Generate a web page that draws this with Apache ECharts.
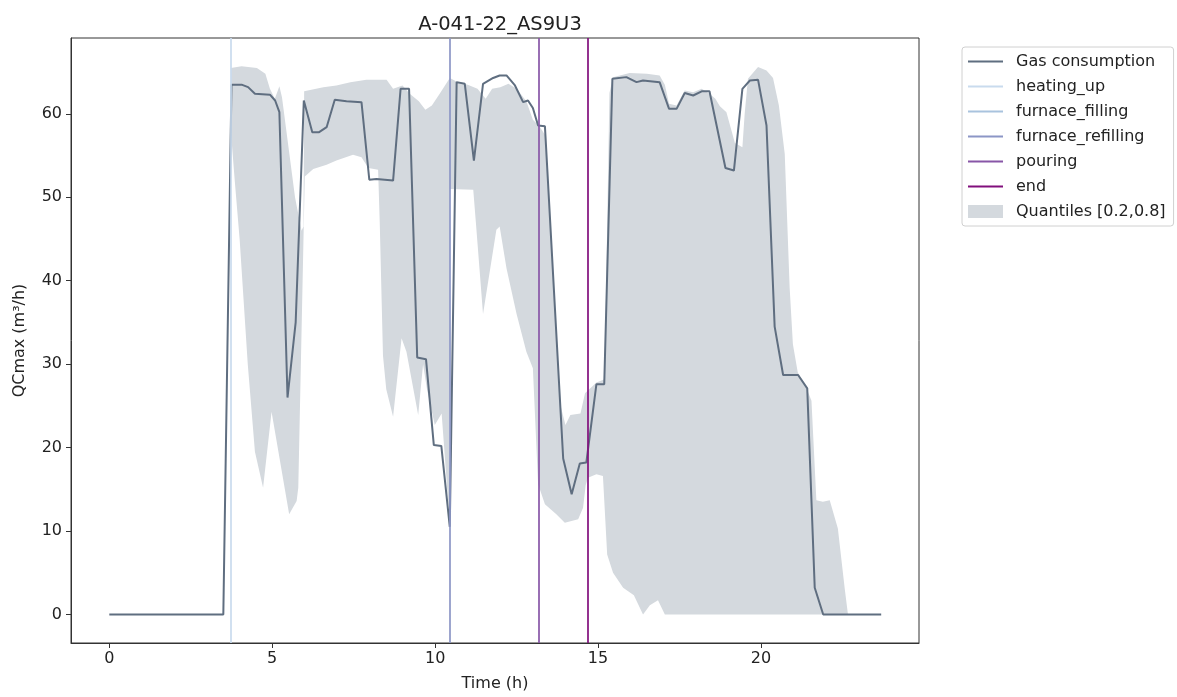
<!DOCTYPE html>
<html>
<head>
<meta charset="utf-8">
<script src="https://cdn.jsdelivr.net/npm/echarts@6/dist/echarts.min.js"></script>
<style>html,body{margin:0;padding:0;background:#fff}#c{width:1177px;height:697px}</style>
</head>
<body>
<div id="c"></div>
<script>
// ---- data ----
const chartTitle = 'A-041-22_AS9U3';
const xTicks = [0, 5, 10, 15, 20];
const yTicks = [0, 10, 20, 30, 40, 50, 60];

const gasConsumption = [
  [0,0],[3.5,0],[3.75,63.5],[4.06,63.5],[4.26,63.2],[4.47,62.4],[4.93,62.3],[5.09,61.6],[5.22,60.2],
  [5.47,26.0],[5.72,35.0],[5.97,61.6],[6.23,57.8],[6.44,57.8],[6.67,58.4],[6.92,61.7],[7.28,61.5],
  [7.74,61.4],[7.98,52.1],[8.20,52.2],[8.71,52.0],[8.94,63.0],[9.20,63.0],[9.45,30.8],[9.72,30.6],
  [9.96,20.3],[10.19,20.2],[10.45,10.5],[10.66,63.8],[10.91,63.6],[11.19,54.4],[11.47,63.6],
  [11.78,64.3],[11.98,64.6],[12.19,64.6],[12.45,63.4],[12.70,61.4],[12.85,61.6],[13.0,60.7],
  [13.16,58.6],[13.37,58.5],[13.93,18.7],[14.19,14.4],[14.44,18.1],[14.64,18.2],[14.95,27.6],
  [15.19,27.6],[15.44,64.2],[15.87,64.4],[16.18,63.8],[16.38,64.0],[16.89,63.8],[17.18,60.6],
  [17.41,60.6],[17.66,62.5],[17.92,62.2],[18.18,62.7],[18.42,62.7],[18.91,53.5],[19.17,53.2],
  [19.43,63.0],[19.66,64.0],[19.91,64.1],[20.17,58.6],[20.42,34.5],[20.68,28.7],[21.14,28.7],
  [21.42,27.1],[21.65,3.2],[21.91,0],[23.69,0]
];

const quantileUpper = [
  [3.73,65.5],[4.06,65.7],[4.53,65.5],[4.79,64.8],[4.93,63.0],[5.08,61.8],[5.22,63.3],[5.3,62],
  [5.5,56],[5.7,50],[5.9,46],[5.96,46.5],[5.98,62.7],[6.57,63.2],[6.97,63.4],[7.4,63.8],[7.89,64.1],
  [8.51,64.1],[8.71,63.0],[9.0,63.4],[9.22,62.4],[9.5,61.5],[9.7,60.5],[9.9,61.0],[10.14,62.4],
  [10.45,64.3],[10.7,63.8],[11.0,63.5],[11.3,63.0],[11.55,61.8],[11.75,63.0],[12.0,63.2],[12.25,63.6],
  [12.5,63.0],[12.8,61.5],[13.0,59.3],[13.2,58.5],[13.37,57.5],[13.6,42],[13.85,25],[14.0,22.7],
  [14.15,23.9],[14.46,24.1],[14.6,26.5],[14.95,27.8],[15.2,28.2],[15.35,62.5],[15.46,64.4],
  [15.97,64.9],[16.5,64.8],[16.89,64.6],[17.05,63.5],[17.18,61.2],[17.41,61.0],[17.66,62.8],
  [17.92,62.6],[18.18,63.0],[18.42,62.4],[18.6,61.8],[18.74,60.9],[18.94,60.2],[19.2,56.5],
  [19.43,56.0],[19.5,60],[19.6,64.2],[19.91,65.6],[20.17,65.2],[20.37,64.3],[20.55,61],[20.73,55.2],
  [20.88,39.2],[20.98,32.4],[21.13,29.0],[21.39,27.2],[21.55,25.6],[21.7,13.7],[21.9,13.5],
  [22.11,13.7],[22.36,10.3],[22.57,3.1],[22.67,0]
];

const quantileLower = [
  [3.73,58.0],[3.85,52],[4.0,45],[4.25,30],[4.47,19.5],[4.72,15.2],[4.98,24.3],[5.52,12.0],[5.75,13.6],
  [5.8,15.2],[6.0,52.5],[6.26,53.4],[6.67,53.9],[6.97,54.4],[7.48,55.1],[7.74,54.8],[7.95,53.5],
  [8.25,53.3],[8.3,47],[8.4,31],[8.5,27],[8.71,23.7],[8.97,33.1],[9.12,31.5],[9.48,23.9],[9.63,30.0],
  [9.75,27],[9.99,22.7],[10.2,24.1],[10.4,13.5],[10.44,12.5],[10.45,51.0],[11.17,50.9],[11.25,47],
  [11.47,36.0],[11.88,46.1],[11.98,46.5],[12.19,41.5],[12.5,36.0],[12.8,31.5],[13.0,29.5],
  [13.16,15.6],[13.37,13.2],[13.72,12.0],[13.98,11.0],[14.39,11.4],[14.54,12.8],[14.62,15.5],
  [14.69,16.4],[14.95,16.8],[15.15,16.6],[15.28,7.2],[15.46,5.0],[15.77,3.2],[16.1,2.3],[16.38,0],
  [16.59,1.1],[16.84,1.7],[17.05,0],[22.67,0]
];

const eventNames = ['heating_up', 'furnace_filling', 'furnace_refilling', 'pouring', 'end'];
const eventTimes = [3.73, null, 10.45, 13.19, 14.68];

// ---- styles ----
const eventColors = ['#c9dbee', '#a9c3de', '#8c96c6', '#8856a7', '#810f7c'];
const gasColor = '#5f6e80';
const bandColor = '#d4d9de';
const font = 'DejaVu Sans';

const chart = echarts.init(document.getElementById('c'), null, {renderer: 'canvas'});

const series = [];
series.push({
  type: 'custom',
  name: 'Quantiles [0.2,0.8]',
  coordinateSystem: 'cartesian2d',
  data: quantileUpper,
  silent: true,
  z: 1,
  itemStyle: {color: bandColor},
  renderItem: function (params, api) {
    if (params.dataIndex !== 0) return null;
    const pts = quantileUpper.map(p => api.coord(p))
      .concat(quantileLower.slice().reverse().map(p => api.coord(p)));
    return {type: 'polygon', shape: {points: pts}, style: {fill: bandColor}};
  }
});
series.push({
  type: 'line',
  name: 'Gas consumption',
  data: gasConsumption,
  symbol: 'none',
  showSymbol: false,
  z: 3,
  lineStyle: {color: gasColor, width: 2},
  itemStyle: {color: gasColor}
});
eventNames.forEach((n, i) => {
  series.push({
    type: 'line',
    name: n,
    data: [],
    symbol: 'none',
    z: 4,
    lineStyle: {color: eventColors[i], width: 1.7},
    itemStyle: {color: eventColors[i]},
    markLine: {
      silent: true,
      symbol: 'none',
      label: {show: false},
      lineStyle: {color: eventColors[i], width: 1.7, type: 'solid'},
      data: eventTimes[i] === null ? [] : [{xAxis: eventTimes[i]}]
    }
  });
});

const legendItems = ['Gas consumption'].concat(eventNames).map(n => ({name: n}));
legendItems.push({name: 'Quantiles [0.2,0.8]', icon: 'rect', itemStyle: {opacity: 1, color: bandColor}});

chart.setOption({
  animation: false,
  backgroundColor: '#fff',
  title: {
    text: chartTitle,
    left: 495, top: 10, textAlign: 'center',
    textStyle: {fontFamily: font, fontSize: 19.5, fontWeight: 'normal', color: '#222'}
  },
  grid: {
    left: 71, right: 258, top: 38, bottom: 51,
    show: true, borderColor: '#333', borderWidth: 1, backgroundColor: '#fff'
  },
  legend: {
    orient: 'vertical', left: 962, top: 47,
    data: legendItems,
    itemWidth: 35, itemHeight: 13, itemGap: 8,
    padding: [6, 8, 6, 5],
    borderColor: '#d0d0d0', borderWidth: 1, borderRadius: 3,
    itemStyle: {opacity: 0},
    lineStyle: {width: 2},
    textStyle: {fontFamily: font, fontSize: 16, color: '#222', lineHeight: 17, padding: [0, 0, 0, 8]},
    selectedMode: false
  },
  xAxis: {
    type: 'value', min: -1.175, max: 24.85,
    name: 'Time (h)', nameLocation: 'middle', nameGap: 33,
    nameTextStyle: {fontFamily: font, fontSize: 16, color: '#222'},
    splitLine: {show: false},
    axisLine: {show: true, onZero: false, lineStyle: {color: '#333', width: 1}},
    axisTick: {show: true, length: 5, customValues: xTicks, lineStyle: {color: '#333'}},
    axisLabel: {customValues: xTicks, margin: 8, fontFamily: font, fontSize: 16, color: '#222'}
  },
  yAxis: {
    type: 'value', min: -3.42, max: 69.09,
    name: 'QCmax (m³/h)', nameLocation: 'middle', nameGap: 43,
    nameTextStyle: {fontFamily: font, fontSize: 16, color: '#222'},
    splitLine: {show: false},
    axisLine: {show: true, onZero: false, lineStyle: {color: '#333', width: 1}},
    axisTick: {show: true, length: 5, customValues: yTicks, lineStyle: {color: '#333'}},
    axisLabel: {customValues: yTicks, margin: 9, fontFamily: font, fontSize: 16, color: '#222'}
  },
  series: series
});
</script>
</body>
</html>
